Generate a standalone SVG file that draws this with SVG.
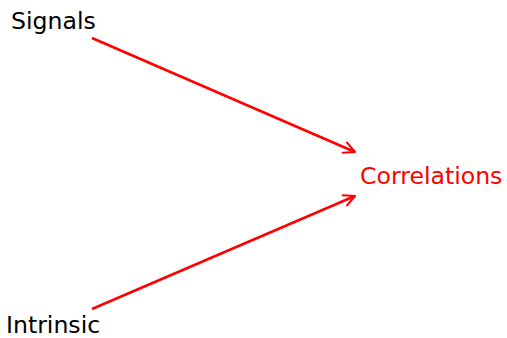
<svg xmlns="http://www.w3.org/2000/svg" width="507" height="338" viewBox="0 0 507 338">
<style>
text{font-family:"DejaVu Sans","Liberation Sans",sans-serif;font-size:23.6px}
.edge{stroke:#ff0000;stroke-width:2.5;fill:none;marker-end:url(#arr)}
</style>
<defs>
<marker id="arr" viewBox="0 0 10 10" refX="9" refY="5" markerWidth="5.5" markerHeight="5.5" markerUnits="strokeWidth" orient="auto">
<path d="M1,1 L9,5 L1,9" fill="none" stroke="#ff0000" stroke-width="1.5" stroke-linecap="round" stroke-linejoin="round"/>
</marker>
</defs>
<rect width="507" height="338" fill="#fff"/>
<g id="connectors">
<line class="edge" x1="92" y1="38" x2="355" y2="152"/>
<line class="edge" x1="92" y1="309" x2="355" y2="196"/>
</g>
<g id="signals"><text x="11" y="29" fill="#000">Signals</text></g>
<g id="intrinsic"><text x="6" y="333" fill="#000">Intrinsic</text></g>
<g id="correlations"><text x="360" y="184" fill="#ff0000">Correlations</text></g>
</svg>
